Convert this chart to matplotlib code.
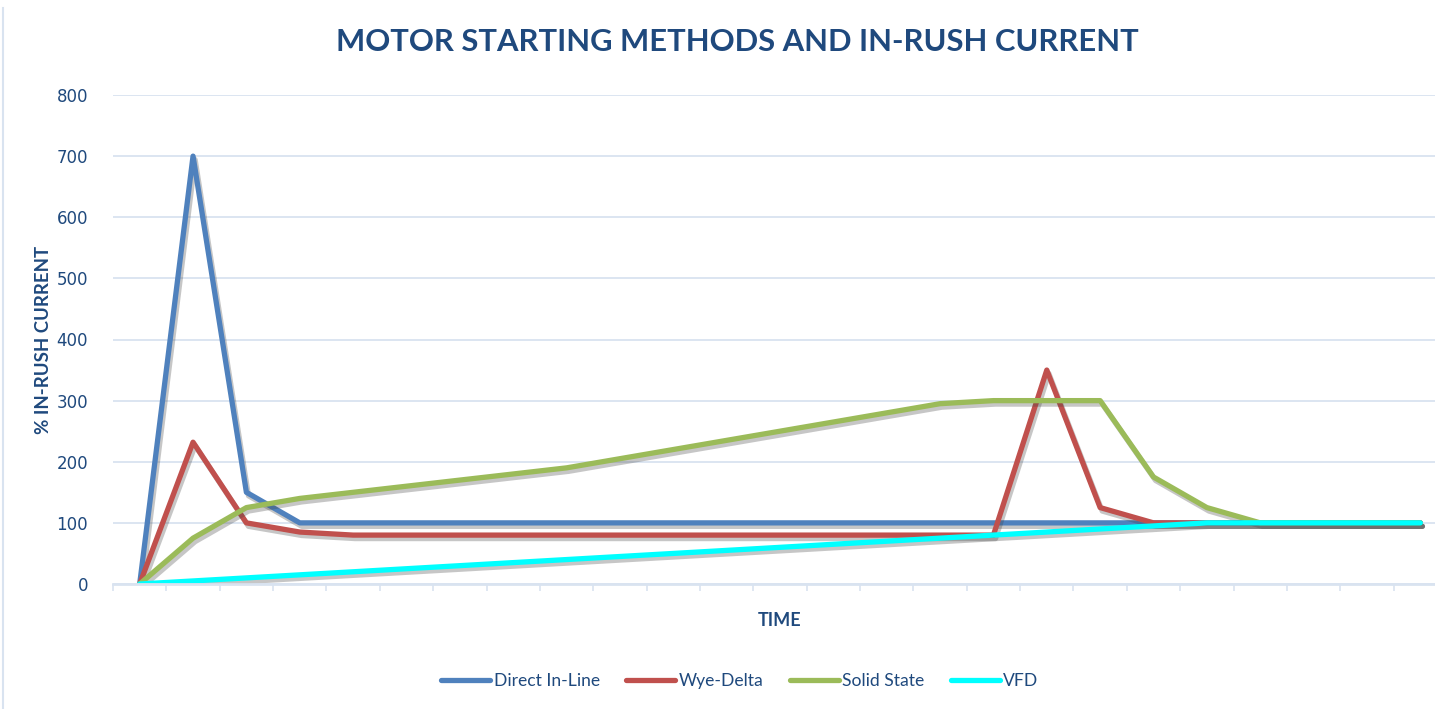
import matplotlib
matplotlib.use("Agg")
import matplotlib.pyplot as plt
import matplotlib.patheffects as pe
from matplotlib.lines import Line2D
import numpy as np

# data (25 time steps, % of full-load current)
steps = np.arange(25)
direct_inline = [0, 700, 150, 100, 100, 100, 100, 100, 100, 100, 100, 100, 100,
                 100, 100, 100, 100, 100, 100, 100, 100, 100, 100, 100, 100]
wye_delta = [0, 232, 100, 85, 80, 80, 80, 80, 80, 80, 80, 80, 80,
             80, 80, 80, 80, 350, 125, 100, 100, 100, 100, 100, 100]
solid_state = [0, 75, 125, 140, 150, 160, 170, 180, 190, 205, 220, 235, 250,
               265, 280, 295, 300, 300, 300, 175, 125, 100, 100, 100, 100]
vfd = [0, 5, 10, 15, 20, 25, 30, 35, 40, 45, 50, 55, 60,
       65, 70, 75, 80, 85, 90, 95, 100, 100, 100, 100, 100]

series = [("Direct In-Line", direct_inline, "#4f81bd"),
          ("Wye-Delta", wye_delta, "#c0504d"),
          ("Solid State", solid_state, "#9bbb59"),
          ("VFD", vfd, "#00ffff")]

navy = "#1f497d"
grid_c = "#d9e3f0"
font_c = ["Lato", "DejaVu Sans"]

fig = plt.figure(figsize=(14.35, 7.09), dpi=100)
ax = fig.add_axes([113 / 1435, 1 - 584 / 709, 1334 / 1435, (584 - 95) / 709])

shadow = [pe.SimpleLineShadow(offset=(1.5, -2.5), shadow_color="#444444", alpha=0.3),
          pe.Normal()]
for name, vals, col in series:
    ax.plot(steps, vals, color=col, lw=3.8, label=name,
            solid_capstyle="round", solid_joinstyle="round", path_effects=shadow)

ax.set_xlim(-0.5, 24.5)
ax.set_ylim(0, 800)
ax.set_yticks(np.arange(0, 801, 100))
ax.set_xticks([])
ax.set_xticks(np.arange(-0.5, 24.6, 1), minor=True)
ax.tick_params(axis="x", which="minor", length=5, width=1.2, color=grid_c, direction="out")
ax.tick_params(axis="y", length=0, pad=18, labelsize=12, labelcolor=navy)
ax.grid(axis="y", color=grid_c, lw=1.3)
ax.set_axisbelow(True)
for s in ["top", "right", "left"]:
    ax.spines[s].set_visible(False)
ax.spines["bottom"].set_color(grid_c)
ax.spines["bottom"].set_linewidth(2)

fig.text(737 / 1435, 1 - 42 / 709, "MOTOR STARTING METHODS AND IN-RUSH CURRENT",
         ha="center", va="center", fontsize=22.3, fontweight="bold", color=navy, family=font_c)
fig.text(44 / 1435, 1 - 340 / 709, "% IN-RUSH CURRENT", rotation=90,
         ha="center", va="center", fontsize=13.4, fontweight="bold", color=navy, family=font_c)
fig.text(780 / 1435, 1 - 620 / 709, "TIME", ha="center", va="center",
         fontsize=13, fontweight="bold", color=navy, family=font_c)

leg = fig.legend(loc="center", bbox_to_anchor=(740 / 1435, 1 - 681 / 709), ncol=4,
                 frameon=False, handlelength=2.8, handletextpad=0.2, columnspacing=1.5,
                 prop={"family": font_c, "size": 12.6})
for t in leg.get_texts():
    t.set_color(navy)
for h in leg.legend_handles:
    h.set_linewidth(3.8)
    h.set_solid_capstyle("round")
    h.set_path_effects([])

# thin chart-area border on the left
fig.add_artist(Line2D([3 / 1435, 3 / 1435], [0, 1 - 8 / 709], transform=fig.transFigure,
                      color=grid_c, lw=1.5))

fig.savefig("out.png", dpi=100)
